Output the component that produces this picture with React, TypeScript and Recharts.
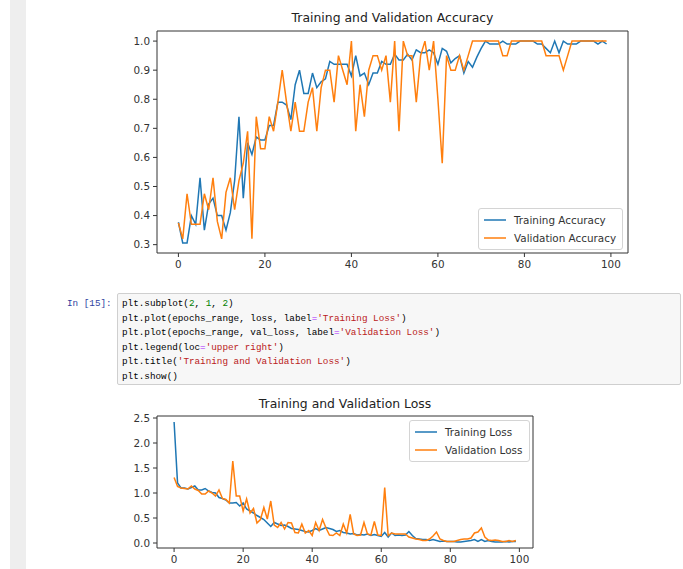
import React from "react"
import { LineChart, Line, XAxis, YAxis, ReferenceArea, Legend } from "recharts"

// epochs_range = range(100)
const epochs = Array.from({ length: 100 }, (_, i) => i)

const acc = [
  0.377, 0.306, 0.306, 0.4, 0.37, 0.53, 0.35, 0.44, 0.46, 0.4,
  0.4, 0.35, 0.41, 0.52, 0.74, 0.46, 0.65, 0.61, 0.67, 0.66,
  0.66, 0.71, 0.71, 0.79, 0.79, 0.78, 0.73, 0.85, 0.9, 0.82,
  0.82, 0.89, 0.84, 0.86, 0.87, 0.93, 0.92, 0.92, 0.92, 0.92,
  0.88, 0.95, 0.88, 0.89, 0.85, 0.89, 0.89, 0.93, 0.92, 0.92,
  0.955, 0.935, 0.935, 0.955, 0.935, 0.97, 0.96, 0.96, 0.97, 0.96,
  0.92, 0.975, 0.965, 0.925, 0.94, 0.95, 0.89, 0.93, 0.91, 0.945,
  0.975, 1.0, 0.99, 0.99, 0.99, 1.0, 0.99, 0.99, 0.99, 1.0,
  1.0, 1.0, 1.0, 0.99, 0.99, 0.975, 0.96, 1.0, 0.96, 1.0,
  0.99, 0.99, 0.99, 1.0, 1.0, 1.0, 1.0, 0.99, 1.0, 0.99,
]

const valAcc = [
  0.375, 0.32, 0.475, 0.37, 0.37, 0.37, 0.475, 0.42, 0.53, 0.38,
  0.32, 0.48, 0.53, 0.42, 0.52, 0.58, 0.69, 0.32, 0.74, 0.63,
  0.63, 0.74, 0.69, 0.79, 0.9, 0.79, 0.69, 0.79, 0.69, 0.69,
  0.79, 0.84, 0.69, 0.84, 0.9, 0.9, 0.79, 0.95, 0.9, 0.85,
  1.0, 0.69, 0.85, 0.74, 0.9, 0.95, 0.95, 0.9, 0.95, 0.79,
  1.0, 0.69, 1.0, 0.95, 0.95, 0.79, 0.95, 1.0, 0.9, 1.0,
  0.8, 0.58, 0.95, 0.9, 0.9, 0.95, 0.9, 0.95, 1.0, 1.0,
  1.0, 1.0, 1.0, 1.0, 1.0, 0.95, 0.95, 1.0, 1.0, 1.0,
  1.0, 1.0, 1.0, 1.0, 1.0, 0.95, 0.95, 0.95, 0.95, 0.9,
  0.95, 1.0, 1.0, 1.0, 1.0, 1.0, 1.0, 1.0, 1.0, 1.0,
]

const loss = [
  2.42, 1.2, 1.1, 1.1, 1.08, 1.11, 1.14, 1.06, 1.06, 1.09,
  1.04, 1.01, 1.0, 0.91, 0.89, 0.86, 0.8, 0.8, 0.81, 0.74,
  0.8, 0.68, 0.64, 0.6, 0.55, 0.51, 0.47, 0.4, 0.33, 0.41,
  0.38, 0.35, 0.36, 0.33, 0.29, 0.28, 0.27, 0.25, 0.23, 0.22,
  0.25, 0.29, 0.25, 0.28, 0.31, 0.29, 0.27, 0.23, 0.25, 0.21,
  0.2, 0.18, 0.19, 0.16, 0.17, 0.16, 0.18, 0.15, 0.17, 0.15,
  0.13, 0.21, 0.12, 0.2, 0.15, 0.16, 0.15, 0.16, 0.23, 0.15,
  0.09, 0.08, 0.07, 0.07, 0.05, 0.07, 0.05, 0.03, 0.04, 0.03,
  0.03, 0.03, 0.02, 0.02, 0.03, 0.04, 0.05, 0.07, 0.03, 0.07,
  0.03, 0.05, 0.03, 0.02, 0.02, 0.02, 0.03, 0.02, 0.03, 0.03,
]

const valLoss = [
  1.31, 1.13, 1.1, 1.09, 1.08, 1.14, 1.08, 1.05, 0.98, 0.98,
  1.04, 1.0, 0.94, 1.06, 0.89, 0.87, 0.8, 1.64, 0.94, 0.94,
  0.64, 0.88, 0.6, 0.69, 0.4, 0.47, 0.71, 0.48, 0.84, 0.36,
  0.31, 0.41, 0.28, 0.41, 0.4, 0.21, 0.2, 0.38, 0.2, 0.25,
  0.15, 0.41, 0.25, 0.47, 0.3, 0.16, 0.15, 0.2, 0.15, 0.38,
  0.2, 0.57, 0.18, 0.15, 0.16, 0.41, 0.18, 0.16, 0.43, 0.16,
  0.15, 1.11, 0.15, 0.2, 0.18, 0.18, 0.18, 0.18, 0.12, 0.1,
  0.08, 0.07, 0.05, 0.05, 0.08, 0.14, 0.22, 0.08, 0.05, 0.03,
  0.03, 0.03, 0.05, 0.07, 0.08, 0.08, 0.1, 0.2, 0.22, 0.3,
  0.12, 0.06, 0.05, 0.06, 0.05, 0.03, 0.03, 0.05, 0.03, 0.05,
]

const xTicks = [0, 20, 40, 60, 80, 100]
const accTicks = [0.3, 0.4, 0.5, 0.6, 0.7, 0.8, 0.9, 1.0]
const lossTicks = [0.0, 0.5, 1.0, 1.5, 2.0, 2.5]

const codeLines = [
  "plt.subplot(2, 1, 2)",
  "plt.plot(epochs_range, loss, label='Training Loss')",
  "plt.plot(epochs_range, val_loss, label='Validation Loss')",
  "plt.legend(loc='upper right')",
  "plt.title('Training and Validation Loss')",
  "plt.show()",
]

const BLUE = "#1f77b4"
const ORANGE = "#ff7f0e"
const FONT = "'DejaVu Sans', sans-serif"
const MONO = "'Liberation Mono', 'DejaVu Sans Mono', monospace"

// matplotlib-style 5% padding around the data range
function pad(lo: number, hi: number): [number, number] {
  const m = (hi - lo) * 0.05
  return [lo - m, hi + m]
}

const xDomain = pad(0, epochs.length - 1)
const accDomain = pad(Math.min(...acc, ...valAcc), Math.max(...acc, ...valAcc))
const lossDomain = pad(Math.min(...loss, ...valLoss), Math.max(...loss, ...valLoss))

const accData = epochs.map((e, i) => ({ epoch: e, acc: acc[i], valAcc: valAcc[i] }))
const lossData = epochs.map((e, i) => ({ epoch: e, loss: loss[i], valLoss: valLoss[i] }))

const tickStyle = { fontSize: 10.4, fill: "#333", fontFamily: FONT }

function MplLegend(props: any) {
  const items = props.payload || []
  return (
    <div
      style={{
        border: "1px solid #d4d4d4",
        borderRadius: 3,
        background: "rgba(255,255,255,0.85)",
        padding: "2px 4px 2px 5px",
        fontFamily: FONT,
        fontSize: 10.4,
        color: "#333",
        boxSizing: "border-box",
        whiteSpace: "nowrap",
      }}
    >
      {items.map((p: any) => (
        <div key={p.value} style={{ display: "flex", alignItems: "center", height: 18 }}>
          <svg width={22} height={4} style={{ marginRight: 8, flexShrink: 0 }}>
            <line x1={0} y1={2} x2={22} y2={2} stroke={p.color} strokeWidth={1.5} />
          </svg>
          <span>{p.value}</span>
        </div>
      ))}
    </div>
  )
}

function colorize(line: string) {
  // simple jupyter-like highlighting: strings, numbers, '='
  const parts: React.ReactNode[] = []
  const re = /('[^']*')|(\b\d+\b)|(=)/g
  let last = 0
  let m: RegExpExecArray | null
  let k = 0
  while ((m = re.exec(line))) {
    if (m.index > last) parts.push(<span key={k++}>{line.slice(last, m.index)}</span>)
    const color = m[1] ? "#BA2121" : m[2] ? "#008000" : "#AA22FF"
    parts.push(<span key={k++} style={{ color }}>{m[0]}</span>)
    last = m.index + m[0].length
  }
  if (last < line.length) parts.push(<span key={k++}>{line.slice(last)}</span>)
  return parts
}

export default function App() {
  return (
    <div style={{ position: "absolute", left: 0, top: 0, width: 683, height: 569, background: "#fff", overflow: "hidden" }}>
      {/* notebook side bar */}
      <div style={{ position: "absolute", left: 10, top: 0, width: 16, height: 569, background: "#eeeeee" }} />

      {/* accuracy plot */}
      <div style={{ position: "absolute", left: 157, top: 10, width: 471, textAlign: "center", fontFamily: FONT, fontSize: 12.4, color: "#222", lineHeight: "16px" }}>
        Training and Validation Accuracy
      </div>
      <div style={{ position: "absolute", left: 0, top: 0 }}>
        <LineChart width={683} height={290} data={accData} margin={{ top: 31, right: 55, left: 117, bottom: 7 }}>
          <XAxis
            dataKey="epoch"
            type="number"
            domain={xDomain}
            allowDataOverflow
            ticks={xTicks}
            axisLine={false}
            tickSize={4}
            tickMargin={4}
            height={30}
            tick={tickStyle}
            tickLine={{ stroke: "#333" }}
          />
          <YAxis
            type="number"
            domain={accDomain}
            allowDataOverflow
            ticks={accTicks}
            tickFormatter={(v: number) => v.toFixed(1)}
            axisLine={false}
            tickSize={4}
            tickMargin={3}
            width={40}
            tick={tickStyle}
            tickLine={{ stroke: "#333" }}
          />
          <ReferenceArea x1={xDomain[0]} x2={xDomain[1]} y1={accDomain[0]} y2={accDomain[1]} fill="none" stroke="#333" strokeWidth={1} ifOverflow="visible" />
          <Line type="linear" dataKey="acc" name="Training Accuracy" stroke={BLUE} strokeWidth={1.5} dot={false} isAnimationActive={false} />
          <Line type="linear" dataKey="valAcc" name="Validation Accuracy" stroke={ORANGE} strokeWidth={1.5} dot={false} isAnimationActive={false} />
          <Legend
            layout="vertical"
            align="center"
            verticalAlign="middle"
            content={<MplLegend />}
            wrapperStyle={{ left: 478, top: 208, width: 145 }}
          />
        </LineChart>
      </div>

      {/* code cell */}
      <div style={{ position: "absolute", left: 67, top: 297, fontFamily: MONO, fontSize: 9.3, color: "#303F9F", lineHeight: "14.6px" }}>
        In [15]:
      </div>
      <div
        style={{
          position: "absolute",
          left: 117,
          top: 293,
          width: 564,
          height: 92,
          background: "#f7f7f7",
          border: "1px solid #cfcfcf",
          borderRadius: 2,
          boxSizing: "border-box",
          padding: "3px 4px",
          fontFamily: MONO,
          fontSize: 9.3,
          lineHeight: "14.6px",
          color: "#000",
          whiteSpace: "pre",
        }}
      >
        {codeLines.map((l, i) => (
          <div key={i}>{colorize(l)}</div>
        ))}
      </div>

      {/* loss plot */}
      <div style={{ position: "absolute", left: 157, top: 396, width: 376, textAlign: "center", fontFamily: FONT, fontSize: 12.4, color: "#222", lineHeight: "16px" }}>
        Training and Validation Loss
      </div>
      <div style={{ position: "absolute", left: 0, top: 380 }}>
        <LineChart width={683} height={189} data={lossData} margin={{ top: 36, right: 150, left: 117, bottom: 0 }}>
          <XAxis
            dataKey="epoch"
            type="number"
            domain={xDomain}
            allowDataOverflow
            ticks={xTicks}
            axisLine={false}
            tickSize={4}
            tickMargin={4}
            height={21}
            tick={tickStyle}
            tickLine={{ stroke: "#333" }}
          />
          <YAxis
            type="number"
            domain={lossDomain}
            allowDataOverflow
            ticks={lossTicks}
            tickFormatter={(v: number) => v.toFixed(1)}
            axisLine={false}
            tickSize={4}
            tickMargin={3}
            width={40}
            tick={tickStyle}
            tickLine={{ stroke: "#333" }}
          />
          <ReferenceArea x1={xDomain[0]} x2={xDomain[1]} y1={lossDomain[0]} y2={lossDomain[1]} fill="none" stroke="#333" strokeWidth={1} ifOverflow="visible" />
          <Line type="linear" dataKey="loss" name="Training Loss" stroke={BLUE} strokeWidth={1.5} dot={false} isAnimationActive={false} />
          <Line type="linear" dataKey="valLoss" name="Validation Loss" stroke={ORANGE} strokeWidth={1.5} dot={false} isAnimationActive={false} />
          <Legend
            layout="vertical"
            align="center"
            verticalAlign="middle"
            content={<MplLegend />}
            wrapperStyle={{ left: 409, top: 40, width: 121 }}
          />
        </LineChart>
      </div>
    </div>
  )
}
